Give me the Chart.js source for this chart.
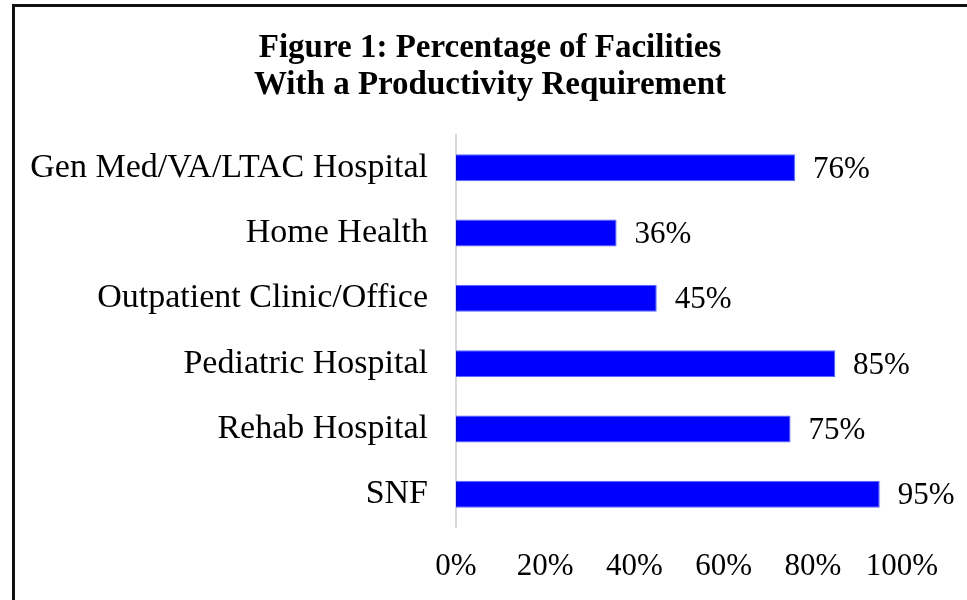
<!DOCTYPE html>
<html>
<head>
<meta charset="utf-8">
<script src="https://cdn.jsdelivr.net/npm/chart.js@4"></script>
<style>
  html, body { margin: 0; padding: 0; background: #fff; overflow: hidden; }
  #wrap { position: relative; width: 967px; height: 600px; }
  #frame { position: absolute; left: 12px; top: 4px; width: 2000px; height: 2000px;
           border-left: 3px solid #111; border-top: 3px solid #111; pointer-events: none; }
  canvas { position: absolute; left: 0; top: 0; }
</style>
</head>
<body>
<div id="wrap">
  <canvas id="c" width="967" height="600"></canvas>
  <div id="frame"></div>
</div>
<script>
const categories = [
  "Gen Med/VA/LTAC Hospital",
  "Home Health",
  "Outpatient Clinic/Office",
  "Pediatric Hospital",
  "Rehab Hospital",
  "SNF"
];
const values = [76, 36, 45, 85, 75, 95];
const titleLines = ["Figure 1: Percentage of Facilities", "With a Productivity Requirement"];
const xTicks = [0, 20, 40, 60, 80, 100];

const FONT = "'Liberation Serif', 'DejaVu Serif', serif";

const valueLabels = {
  id: 'valueLabels',
  afterDatasetsDraw(chart) {
    const ctx = chart.ctx;
    const meta = chart.getDatasetMeta(0);
    ctx.save();
    ctx.font = "31px " + FONT;
    ctx.fillStyle = "#000";
    ctx.textAlign = "left";
    ctx.textBaseline = "middle";
    meta.data.forEach((bar, i) => {
      ctx.fillText(values[i] + "%", bar.x + 18, bar.y + 2);
    });
    ctx.restore();
  }
};

const titleDraw = {
  id: 'titleDraw',
  afterDraw(chart) {
    const ctx = chart.ctx;
    ctx.save();
    ctx.font = "bold 33px " + FONT;
    ctx.fillStyle = "#000";
    ctx.textAlign = "center";
    ctx.textBaseline = "alphabetic";
    titleLines.forEach((t, i) => ctx.fillText(t, 490, 57 + i * 37));
    ctx.restore();
  }
};

new Chart(document.getElementById('c'), {
  type: 'bar',
  data: {
    labels: categories,
    datasets: [{
      data: values,
      backgroundColor: '#0000ff',
      borderColor: '#5566ff',
      borderWidth: 1,
      categoryPercentage: 1.0,
      barPercentage: 0.414
    }]
  },
  options: {
    indexAxis: 'y',
    responsive: false,
    animation: false,
    layout: { padding: { left: 14, right: 65, top: 135, bottom: 0 } },
    plugins: {
      legend: { display: false },
      tooltip: { enabled: false },
      title: { display: false }
    },
    scales: {
      x: {
        min: 0,
        max: 100,
        afterBuildTicks(scale) { scale.ticks = xTicks.map(v => ({ value: v })); },
        afterFit(scale) { scale.height = 73; },
        grid: { display: false, drawTicks: false },
        border: { display: false },
        ticks: {
          color: '#000',
          padding: 21,
          maxRotation: 0,
          font: { family: FONT, size: 31 },
          callback: v => v + '%'
        }
      },
      y: {
        afterFit(scale) { scale.width = 442; },
        grid: { display: false, drawTicks: false },
        border: { display: true, color: '#d9d9d9', width: 2 },
        ticks: {
          color: '#000',
          padding: 28,
          font: { family: FONT, size: 34 }
        }
      }
    }
  },
  plugins: [valueLabels, titleDraw]
});
</script>
</body>
</html>
